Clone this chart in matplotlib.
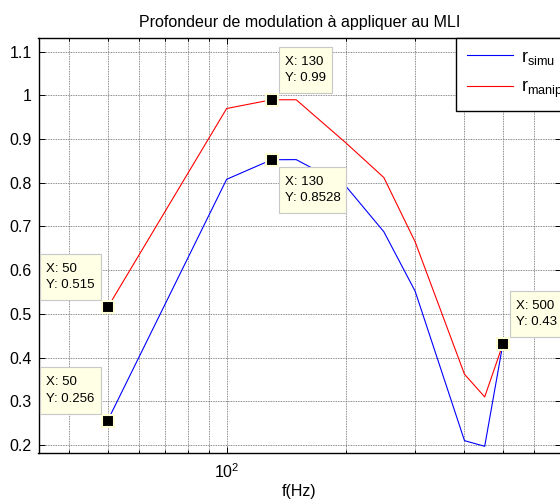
import numpy as np
import matplotlib
matplotlib.use("Agg")
import matplotlib.pyplot as plt
from matplotlib.path import Path
from matplotlib.ticker import LogLocator, NullFormatter, FixedLocator, FuncFormatter

plt.rcParams['font.family'] = ['Liberation Sans', 'DejaVu Sans']
plt.rcParams['mathtext.fontset'] = 'custom'
plt.rcParams['mathtext.rm'] = 'Liberation Sans'
plt.rcParams['mathtext.it'] = 'Liberation Sans'

# measured modulation depth vs frequency
freq = [50, 100, 130, 150, 200, 250, 300, 400, 450, 500]
r_simu = [0.256, 0.808, 0.8528, 0.853, 0.793, 0.688, 0.552, 0.21, 0.197, 0.43]
r_manip = [0.515, 0.97, 0.99, 0.99, 0.892, 0.812, 0.665, 0.362, 0.31, 0.43]

# data tips: (x, y, text, corner direction)
tips = [
    (50, 0.515, "X: 50\nY: 0.515", "ul"),
    (50, 0.256, "X: 50\nY: 0.256", "ul"),
    (130, 0.99, "X: 130\nY: 0.99", "ur"),
    (130, 0.8528, "X: 130\nY: 0.8528", "lr"),
    (500, 0.43, "X: 500\nY: 0.43", "ur"),
]

HPAD, VPAD = 6, 9


def tip_box(x0, y0, width, height, mutation_size):
    # plain rectangle, wider padding top/bottom than left/right
    x0, x1 = x0 - HPAD, x0 + width + HPAD
    y0, y1 = y0 - VPAD, y0 + height + VPAD
    return Path([(x0, y0), (x1, y0), (x1, y1), (x0, y1), (x0, y0)], closed=True)


fig = plt.figure(figsize=(5.6, 5.01), dpi=100)
ax = fig.add_axes([38.5 / 560, 48.3 / 501, 522 / 560, 415 / 501])

ax.plot(freq, r_simu, color='#0000ff', lw=0.8, label=r'r$_{\mathrm{simu}}$')
ax.plot(freq, r_manip, color='#ff0000', lw=0.8, label=r'r$_{\mathrm{manip}}$')

ax.set_xscale('log')
ax.set_xlim(33.4, 700)
ax.set_ylim(0.1824, 1.132)

ax.yaxis.set_major_locator(FixedLocator(np.arange(0.2, 1.15, 0.1)))
ax.yaxis.set_major_formatter(FuncFormatter(lambda v, p: f"{v:g}"))
ax.xaxis.set_minor_locator(LogLocator(base=10, subs=np.arange(2, 10)))
ax.xaxis.set_minor_formatter(NullFormatter())

ax.tick_params(which='both', direction='in', top=True, right=True,
               labelsize=11.5, width=0.7, pad=5)
ax.tick_params(axis='x', pad=7)
ax.tick_params(which='major', length=4)
ax.tick_params(which='minor', length=2.5)

ax.grid(True, which='both', color='0.4', linestyle=(0, (1, 1)), lw=0.6)
ax.set_axisbelow(True)
for s in ax.spines.values():
    s.set_linewidth(1.0)

ax.set_title("Profondeur de modulation à appliquer au MLI", fontsize=11.5, pad=8)
ax.set_xlabel("f(Hz)", fontsize=11.5, labelpad=2)

# data tip markers and boxes
gap = 7
for x, y, txt, corner in tips:
    ax.plot(x, y, marker='s', ms=8, mfc='black', mec='#ffffd8', mew=1.5,
            zorder=5, clip_on=False)
    dx = gap + HPAD if corner[1] == 'r' else -(gap + HPAD)
    dy = gap + VPAD if corner[0] == 'u' else -(gap + VPAD)
    ha = 'left' if corner[1] == 'r' else 'right'
    va = 'bottom' if corner[0] == 'u' else 'top'
    ax.annotate(txt, (x, y), xytext=(dx, dy), textcoords='offset pixels',
                ha=ha, va=va, multialignment='left', fontsize=9.5,
                linespacing=1.45, zorder=6,
                bbox=dict(boxstyle=tip_box, fc='#ffffe6', ec='#c8c8c8', lw=0.8))

leg = ax.legend(loc='upper left', bbox_to_anchor=((455.7 - 38.5) / 522, 1.0),
                borderaxespad=0, fancybox=False, framealpha=1, edgecolor='black',
                fontsize=13, handlelength=2.6, handletextpad=0.4, labelspacing=0.7,
                borderpad=0.6)
leg.get_frame().set_linewidth(1.0)

fig.savefig("out.png", dpi=100)
